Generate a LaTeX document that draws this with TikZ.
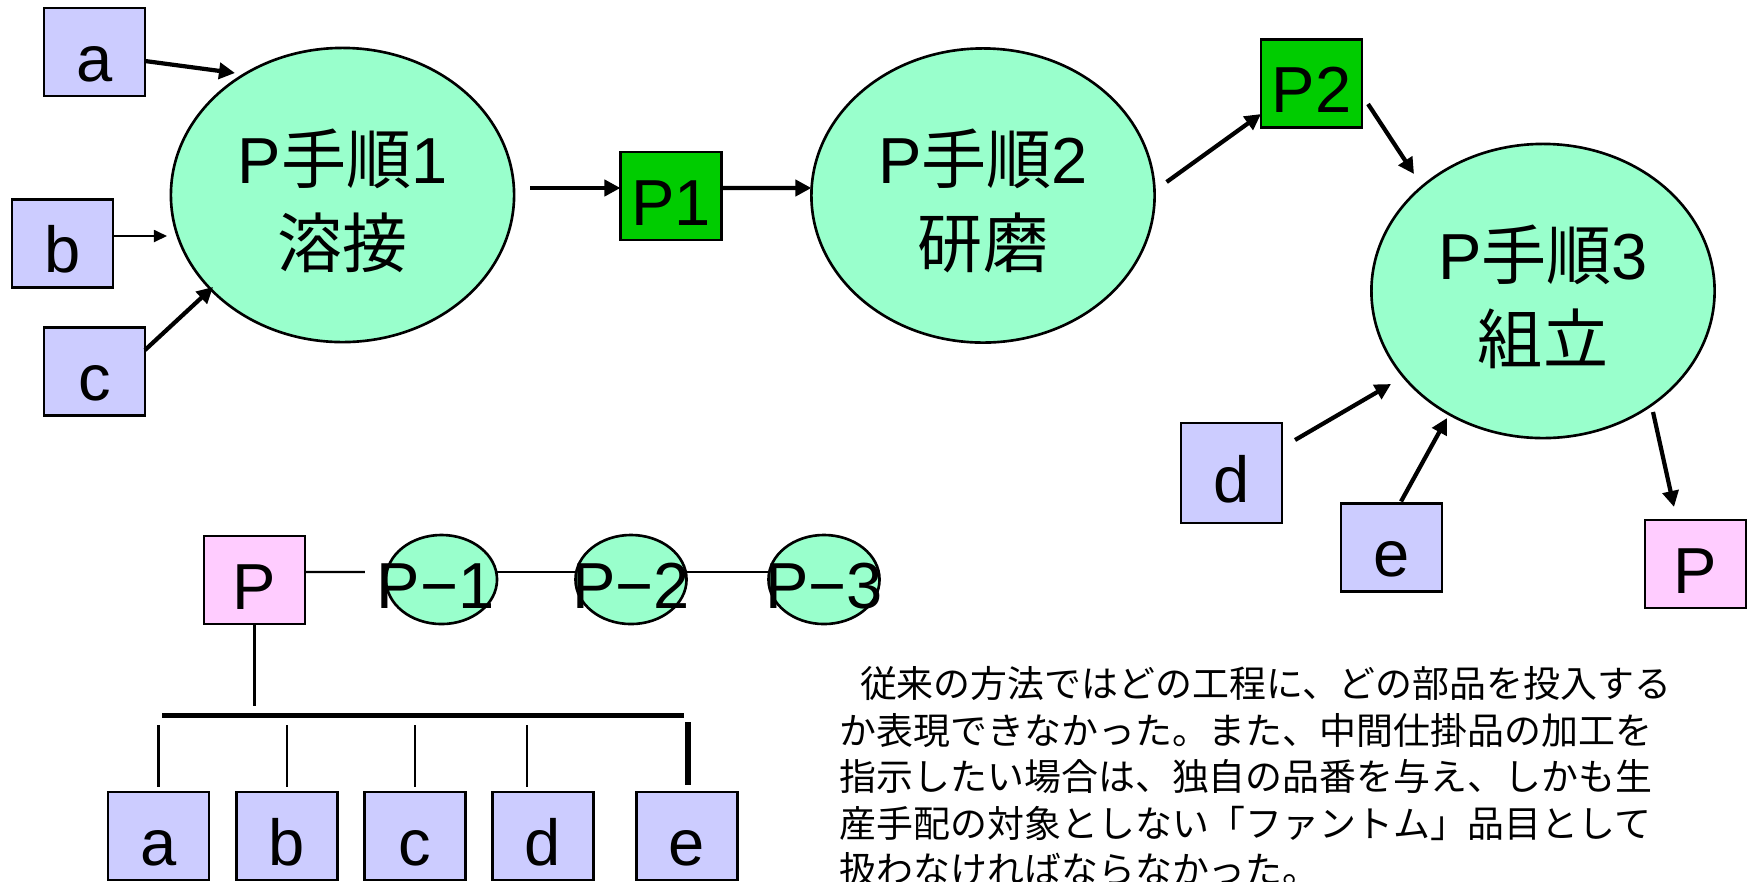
\documentclass[tikz,border=0pt]{standalone}
\usepackage{fontspec}
\setmainfont{Liberation Sans}
\newfontfamily\jp{Noto Sans CJK JP}
\usetikzlibrary{arrows.meta,shapes.geometric}
\definecolor{partblue}{HTML}{CCCCFF}
\definecolor{mint}{HTML}{99FFCC}
\definecolor{midgreen}{HTML}{00CC00}
\definecolor{pinkp}{HTML}{FFCCFF}
\begin{document}
\begin{tikzpicture}[x=0.01cm,y=-0.01cm,
  box/.style={draw=black, line width=0.65pt, minimum width=1.01cm, minimum height=0.88cm,
    inner sep=0pt, outer sep=0pt, text height=0.58cm, text depth=0cm,
    font=\fontsize{18.5pt}{22pt}\selectfont},
  part/.style={box, fill=partblue},
  mid/.style={box, fill=midgreen},
  prod/.style={box, fill=pinkp},
  proc/.style={ellipse, draw=black, line width=0.75pt, fill=mint, minimum width=3.43cm,
    minimum height=2.94cm, inner sep=0pt, outer sep=0pt, align=center,
    text height=1.52cm, text depth=0.08cm, font=\fontsize{18.5pt}{23.9pt}\selectfont},
  sproc/.style={ellipse, draw=black, line width=0.75pt, fill=mint, minimum width=1.11cm,
    minimum height=0.89cm, inner sep=0pt, outer sep=0pt},
  slbl/.style={font=\fontsize{18.5pt}{22pt}\selectfont, inner sep=0pt, text height=0.58cm, text depth=0cm},
  arr/.style={line width=1.2pt, -{Triangle[length=0.16cm,width=0.16cm]}},
  arrthin/.style={line width=0.5pt, -{Triangle[length=0.13cm,width=0.12cm]}},
  link/.style={line width=0.7pt},
  linkthick/.style={line width=1.5pt},
  barline/.style={line width=1.6pt},
  para/.style={align=left, inner sep=0pt, font=\jp\fontsize{10.5pt}{13.2pt}\selectfont},
]
\useasboundingbox (0,0) rectangle (1749,881);

% ---------- upper process flow ----------
\node[proc] (e1) at (342.5,195) {P{\jp 手順}1\\{\jp 溶接}};
\node[proc] (e2) at (983,195.5) {P{\jp 手順}2\\{\jp 研磨}};
\node[proc] (e3) at (1543,291) {P{\jp 手順}3\\{\jp 組立}};

\node[part] (a) at (94.5,52) {a};
\node[part] (b) at (62.5,243.5) {b};
\node[part] (c) at (94.5,371.5) {c};
\node[mid] (P1) at (671,196) {P1};
\node[mid] (P2) at (1311.5,83.5) {P2};
\node[part, minimum height=1.0cm] (d) at (1231.5,473) {d};
\node[part] (e) at (1391.5,547.5) {e};
\node[prod] (Pt) at (1695.5,564) {P};

\coordinate (ta) at (235,73);
\coordinate (tb) at (167,236);
\coordinate (tc) at (213,287);
\coordinate (tp2) at (1414,174);
\coordinate (td) at (1391,384);
\coordinate (te) at (1447,418);
\coordinate (sp) at (1653,412);

\draw[arr] ([yshift=-0.09cm]a.east) -- (ta);
\draw[arrthin] ([yshift=0.075cm]b.east) -- (tb);
\draw[arr] ([yshift=0.215cm]c.east) -- (tc);
\draw[arr] ([xshift=0.16cm,yshift=0.07cm]e1.east) -- ([yshift=0.08cm]P1.west);
\draw[arr] ([yshift=0.08cm]P1.east) -- ([yshift=0.075cm]e2.west);
\draw[arr] ([xshift=0.12cm,yshift=0.135cm]e2.east) -- ([yshift=-0.305cm]P2.west);
\draw[arr] ([xshift=0.06cm,yshift=-0.205cm]P2.east) -- (tp2);
\draw[arr] ([xshift=0.13cm,yshift=0.33cm]d.east) -- (td);
\draw[arr] ([xshift=0.095cm,yshift=0.02cm]e.north) -- (te);
\draw[arr] (sp) -- ([xshift=-0.215cm,yshift=0.13cm]Pt.north);

% ---------- lower structure ----------
\node[prod] (Pb) at (254.5,580) {P};
\node[sproc, label={[slbl,xshift=-0.06cm]center:P−1}] (q1) at (441.5,579.5) {};
\node[sproc, label={[slbl]center:P−2}] (q2) at (631,579.5) {};
\node[sproc, label={[slbl]center:P−3}] (q3) at (824,579.5) {};

\draw[link] ([yshift=0.08cm]Pb.east) -- ([xshift=-0.21cm,yshift=0.075cm]q1.west);
\draw[link] ([yshift=0.075cm]q1.east) -- ([yshift=0.075cm]q2.west);
\draw[link] ([yshift=0.075cm]q2.east) -- ([yshift=0.075cm]q3.west);

\coordinate (barL) at (162,715.5);
\coordinate (barR) at (684,715.5);
\draw[link] (Pb.south) -- ++(0,82);
\draw[barline] (barL) -- (barR);

\node[part] (ba) at (158.5,836) {a};
\node[part] (bb) at (287,836) {b};
\node[part] (bc) at (415,836) {c};
\node[part] (bd) at (543,836) {d};
\node[part] (be) at (687,836) {e};

\draw[link] ([yshift=0.05cm]ba.north) -- ++(0,-62);
\draw[link] ([yshift=0.05cm]bb.north) -- ++(0,-62);
\draw[link] ([yshift=0.05cm]bc.north) -- ++(0,-62);
\draw[link] ([xshift=-0.16cm,yshift=0.05cm]bd.north) -- ++(0,-62);
\draw[linkthick] ([xshift=0.01cm,yshift=0.07cm]be.north) -- ++(0,-63);

% ---------- explanatory text ----------
\node[para, anchor=north west] (txt) at (839,666)
  {\hspace*{0.55em}従来の方法ではどの工程に、どの部品を投入する\\
   か表現できなかった。また、中間仕掛品の加工を\\
   指示したい場合は、独自の品番を与え、しかも生\\
   産手配の対象としない「ファントム」品目として\\
   扱わなければならなかった。};
\end{tikzpicture}
\end{document}
